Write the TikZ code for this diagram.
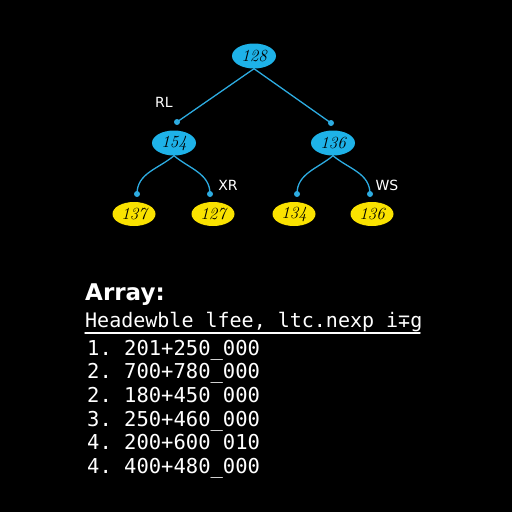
\documentclass[tikz,border=0pt]{standalone}
\usepackage{fontspec}
\setsansfont{DejaVu Sans}
\setmonofont{DejaVu Sans Mono}
\usetikzlibrary{shapes.geometric}
\definecolor{nodeblue}{RGB}{30,178,232}
\definecolor{nodeyellow}{RGB}{250,226,0}
\definecolor{edgeblue}{RGB}{45,172,225}
\tikzset{
  bluenode/.style={ellipse,fill=nodeblue,inner sep=0pt,minimum width=44pt,minimum height=25pt,
    font=\fontsize{17}{17}\selectfont\itshape},
  yellownode/.style={ellipse,fill=nodeyellow,inner sep=0pt,minimum width=43pt,minimum height=24pt,
    font=\fontsize{17}{17}\selectfont\itshape},
  joint/.style={circle,fill=edgeblue,inner sep=0pt,minimum size=6pt},
  edge/.style={edgeblue,line width=1.3pt},
  tag/.style={white,font=\fontsize{14}{14}\selectfont\sffamily},
  listline/.style={white,anchor=base west,inner sep=0pt,font=\fontsize{20.5}{20.5}\selectfont\ttfamily}
}
\begin{document}
\begin{tikzpicture}[x=1pt,y=-1pt,line cap=round]

% --- Sfondo ---
\fill[black] (0,0) rectangle (512,512);
\useasboundingbox (0,0) rectangle (512,512);

% --- Nodi dell'albero ---
\node[bluenode] (root) at (254,56) {128};
\node[bluenode] (l) at (174,143) {154};
\node[bluenode] (r) at (333,143) {136};
\node[yellownode] (ll) at (134,214) {137};
\node[yellownode] (lr) at (213,214) {127};
\node[yellownode] (rl) at (294,214) {134};
\node[yellownode] (rr) at (372,214) {136};

% --- Giunti ---
\node[joint] (jl) at (177,122) {};
\node[joint] (jr) at (331,123) {};
\node[joint] (jll) at (137,194) {};
\node[joint] (jlr) at (210,194) {};
\node[joint] (jrl) at (297,194) {};
\node[joint] (jrr) at (370,194) {};

% --- Archi ---
\draw[edge] (root.south) -- (jl.center);
\draw[edge] (root.south) -- (jr.center);
\draw[edge] (l.south) to[out=-140,in=90] (jll.center);
\draw[edge] (l.south) to[out=-40,in=90] (jlr.center);
\draw[edge] (r.south) to[out=-140,in=90] (jrl.center);
\draw[edge] (r.south) to[out=-40,in=90] (jrr.center);

% --- Etichette ---
\node[tag] (tRL) at (164,102) {RL};
\node[tag] (tXR) at (228,185) {XR};
\node[tag] (tWS) at (387,185) {WS};

% --- Array ---
\node[white,anchor=base west,inner sep=0pt,font=\fontsize{23}{23}\selectfont\sffamily\bfseries] (title) at (85,300) {Array:};
\node[white,anchor=base west,inner sep=0pt,font=\fontsize{20}{20}\selectfont\ttfamily] (head) at (85,327) {Headewble lfee, ltc.nexp i∓g};
\draw[white,line width=1.5pt] (85,333) -- (420,333);

\node[listline] (a1) at (87,355) {1. 201+250\_000};
\node[listline] (a2) at (87,378) {2. 700+780\_000};
\node[listline] (a3) at (87,402) {2. 180+450 000};
\node[listline] (a4) at (87,426) {3. 250+460\_000};
\node[listline] (a5) at (87,449) {4. 200+600 010};
\node[listline] (a6) at (87,473) {4. 400+480\_000};

\end{tikzpicture}
\end{document}
